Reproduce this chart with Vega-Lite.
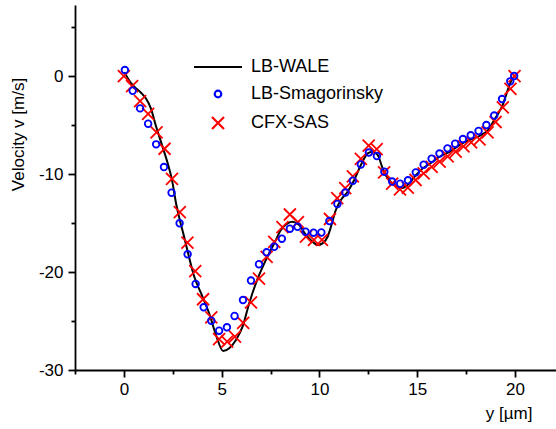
{
  "$schema": "https://vega.github.io/schema/vega-lite/v6.json",
  "width": 481,
  "height": 365,
  "autosize": {"type": "none"},
  "padding": {"left": 75, "top": 5, "right": 0, "bottom": 59},
  "background": "white",
  "config": {
    "view": {"stroke": null},
    "font": "Liberation Sans",
    "axis": {
      "grid": false,
      "domainColor": "black",
      "domainWidth": 1.8,
      "tickColor": "black",
      "tickWidth": 1.8,
      "labelColor": "black",
      "labelFontSize": 17,
      "labelFont": "Liberation Sans",
      "titleFont": "Liberation Sans",
      "titleFontSize": 17,
      "titleFontWeight": "normal",
      "titleColor": "black"
    },
    "legend": {
      "orient": "none",
      "legendX": 134,
      "legendY": 53,
      "padding": 0,
      "labelFont": "Liberation Sans",
      "labelFontSize": 18,
      "labelColor": "black",
      "labelOffset": 24,
      "symbolStrokeWidth": 2.2,
      "symbolSize": 144,
      "rowPadding": 9
    }
  },
  "data": {
    "values": [
      {"series": "LB-WALE", "x": 0.02, "v": 0.4},
      {"series": "LB-WALE", "x": 0.4, "v": -0.8},
      {"series": "LB-WALE", "x": 0.65, "v": -1.3},
      {"series": "LB-WALE", "x": 0.9, "v": -1.75},
      {"series": "LB-WALE", "x": 1.13, "v": -2.3},
      {"series": "LB-WALE", "x": 1.38, "v": -3.3},
      {"series": "LB-WALE", "x": 1.64, "v": -5.1},
      {"series": "LB-WALE", "x": 1.96, "v": -7.1},
      {"series": "LB-WALE", "x": 2.24, "v": -8.9},
      {"series": "LB-WALE", "x": 2.46, "v": -10.6},
      {"series": "LB-WALE", "x": 2.66, "v": -12.9},
      {"series": "LB-WALE", "x": 2.86, "v": -14.69},
      {"series": "LB-WALE", "x": 3.08, "v": -16.4},
      {"series": "LB-WALE", "x": 3.32, "v": -18.37},
      {"series": "LB-WALE", "x": 3.6, "v": -20.48},
      {"series": "LB-WALE", "x": 3.94, "v": -22.14},
      {"series": "LB-WALE", "x": 4.36, "v": -24.21},
      {"series": "LB-WALE", "x": 4.71, "v": -26.43},
      {"series": "LB-WALE", "x": 5.08, "v": -28.06},
      {"series": "LB-WALE", "x": 5.39, "v": -27.79},
      {"series": "LB-WALE", "x": 5.73, "v": -26.94},
      {"series": "LB-WALE", "x": 6.07, "v": -25.58},
      {"series": "LB-WALE", "x": 6.41, "v": -23.19},
      {"series": "LB-WALE", "x": 6.75, "v": -21.15},
      {"series": "LB-WALE", "x": 7.26, "v": -18.78},
      {"series": "LB-WALE", "x": 7.69, "v": -17.07},
      {"series": "LB-WALE", "x": 8.03, "v": -15.71},
      {"series": "LB-WALE", "x": 8.37, "v": -15.03},
      {"series": "LB-WALE", "x": 8.63, "v": -14.87},
      {"series": "LB-WALE", "x": 8.97, "v": -15.2},
      {"series": "LB-WALE", "x": 9.31, "v": -16.22},
      {"series": "LB-WALE", "x": 9.65, "v": -16.91},
      {"series": "LB-WALE", "x": 9.91, "v": -17.24},
      {"series": "LB-WALE", "x": 10.16, "v": -17.07},
      {"series": "LB-WALE", "x": 10.42, "v": -16.4},
      {"series": "LB-WALE", "x": 10.59, "v": -15.38},
      {"series": "LB-WALE", "x": 10.84, "v": -13.67},
      {"series": "LB-WALE", "x": 11.1, "v": -12.65},
      {"series": "LB-WALE", "x": 11.44, "v": -11.81},
      {"series": "LB-WALE", "x": 11.78, "v": -10.61},
      {"series": "LB-WALE", "x": 12.12, "v": -9.08},
      {"series": "LB-WALE", "x": 12.47, "v": -7.89},
      {"series": "LB-WALE", "x": 12.72, "v": -7.72},
      {"series": "LB-WALE", "x": 12.98, "v": -8.06},
      {"series": "LB-WALE", "x": 13.23, "v": -9.39},
      {"series": "LB-WALE", "x": 13.49, "v": -10.44},
      {"series": "LB-WALE", "x": 13.83, "v": -11.12},
      {"series": "LB-WALE", "x": 14.17, "v": -11.46},
      {"series": "LB-WALE", "x": 14.51, "v": -11.12},
      {"series": "LB-WALE", "x": 14.85, "v": -10.31},
      {"series": "LB-WALE", "x": 15.19, "v": -9.59},
      {"series": "LB-WALE", "x": 15.7, "v": -8.88},
      {"series": "LB-WALE", "x": 16.21, "v": -8.16},
      {"series": "LB-WALE", "x": 16.73, "v": -7.65},
      {"series": "LB-WALE", "x": 17.24, "v": -6.94},
      {"series": "LB-WALE", "x": 17.75, "v": -6.48},
      {"series": "LB-WALE", "x": 18.26, "v": -6.02},
      {"series": "LB-WALE", "x": 18.62, "v": -5.51},
      {"series": "LB-WALE", "x": 18.94, "v": -4.49},
      {"series": "LB-WALE", "x": 19.16, "v": -3.78},
      {"series": "LB-WALE", "x": 19.37, "v": -2.96},
      {"series": "LB-WALE", "x": 19.63, "v": -1.43},
      {"series": "LB-WALE", "x": 19.88, "v": -0.23},
      {"series": "LB-WALE", "x": 20.05, "v": 0.1},

      {"series": "CFX-SAS", "x": 0.0, "v": 0.0},
      {"series": "CFX-SAS", "x": 0.42, "v": -1.02},
      {"series": "CFX-SAS", "x": 0.83, "v": -2.55},
      {"series": "CFX-SAS", "x": 1.24, "v": -3.86},
      {"series": "CFX-SAS", "x": 1.67, "v": -5.74},
      {"series": "CFX-SAS", "x": 2.08, "v": -7.42},
      {"series": "CFX-SAS", "x": 2.46, "v": -10.49},
      {"series": "CFX-SAS", "x": 2.86, "v": -13.88},
      {"series": "CFX-SAS", "x": 3.25, "v": -16.99},
      {"series": "CFX-SAS", "x": 3.65, "v": -19.9},
      {"series": "CFX-SAS", "x": 4.05, "v": -22.78},
      {"series": "CFX-SAS", "x": 4.47, "v": -24.64},
      {"series": "CFX-SAS", "x": 4.87, "v": -26.86},
      {"series": "CFX-SAS", "x": 5.28, "v": -27.11},
      {"series": "CFX-SAS", "x": 5.68, "v": -26.6},
      {"series": "CFX-SAS", "x": 6.1, "v": -25.18},
      {"series": "CFX-SAS", "x": 6.5, "v": -23.11},
      {"series": "CFX-SAS", "x": 6.91, "v": -20.68},
      {"series": "CFX-SAS", "x": 7.3, "v": -18.45},
      {"series": "CFX-SAS", "x": 7.69, "v": -16.92},
      {"series": "CFX-SAS", "x": 8.11, "v": -15.41},
      {"series": "CFX-SAS", "x": 8.49, "v": -14.13},
      {"series": "CFX-SAS", "x": 8.9, "v": -14.9},
      {"series": "CFX-SAS", "x": 9.31, "v": -16.4},
      {"series": "CFX-SAS", "x": 9.72, "v": -16.73},
      {"series": "CFX-SAS", "x": 10.13, "v": -16.73},
      {"series": "CFX-SAS", "x": 10.54, "v": -14.59},
      {"series": "CFX-SAS", "x": 10.91, "v": -12.45},
      {"series": "CFX-SAS", "x": 11.32, "v": -11.43},
      {"series": "CFX-SAS", "x": 11.71, "v": -10.23},
      {"series": "CFX-SAS", "x": 12.12, "v": -8.45},
      {"series": "CFX-SAS", "x": 12.52, "v": -7.11},
      {"series": "CFX-SAS", "x": 12.93, "v": -7.45},
      {"series": "CFX-SAS", "x": 13.31, "v": -9.82},
      {"series": "CFX-SAS", "x": 13.72, "v": -10.97},
      {"series": "CFX-SAS", "x": 14.12, "v": -11.56},
      {"series": "CFX-SAS", "x": 14.52, "v": -11.38},
      {"series": "CFX-SAS", "x": 14.92, "v": -10.61},
      {"series": "CFX-SAS", "x": 15.33, "v": -9.93},
      {"series": "CFX-SAS", "x": 15.74, "v": -9.26},
      {"series": "CFX-SAS", "x": 16.15, "v": -8.74},
      {"series": "CFX-SAS", "x": 16.56, "v": -8.21},
      {"series": "CFX-SAS", "x": 16.97, "v": -7.72},
      {"series": "CFX-SAS", "x": 17.37, "v": -7.17},
      {"series": "CFX-SAS", "x": 17.76, "v": -6.77},
      {"series": "CFX-SAS", "x": 18.19, "v": -6.46},
      {"series": "CFX-SAS", "x": 18.6, "v": -5.74},
      {"series": "CFX-SAS", "x": 19.01, "v": -4.69},
      {"series": "CFX-SAS", "x": 19.38, "v": -3.19},
      {"series": "CFX-SAS", "x": 19.77, "v": -1.3},
      {"series": "CFX-SAS", "x": 19.98, "v": -0.02},

      {"series": "LB-Smagorinsky", "x": 0.05, "v": 0.61},
      {"series": "LB-Smagorinsky", "x": 0.45, "v": -1.5},
      {"series": "LB-Smagorinsky", "x": 0.83, "v": -3.3},
      {"series": "LB-Smagorinsky", "x": 1.24, "v": -4.87},
      {"series": "LB-Smagorinsky", "x": 1.65, "v": -6.97},
      {"series": "LB-Smagorinsky", "x": 2.05, "v": -9.29},
      {"series": "LB-Smagorinsky", "x": 2.44, "v": -11.91},
      {"series": "LB-Smagorinsky", "x": 2.85, "v": -15.03},
      {"series": "LB-Smagorinsky", "x": 3.26, "v": -18.19},
      {"series": "LB-Smagorinsky", "x": 3.67, "v": -21.22},
      {"series": "LB-Smagorinsky", "x": 4.08, "v": -23.6},
      {"series": "LB-Smagorinsky", "x": 4.47, "v": -24.97},
      {"series": "LB-Smagorinsky", "x": 4.87, "v": -25.99},
      {"series": "LB-Smagorinsky", "x": 5.27, "v": -25.64},
      {"series": "LB-Smagorinsky", "x": 5.66, "v": -24.49},
      {"series": "LB-Smagorinsky", "x": 6.09, "v": -22.86},
      {"series": "LB-Smagorinsky", "x": 6.5, "v": -20.87},
      {"series": "LB-Smagorinsky", "x": 6.91, "v": -19.21},
      {"series": "LB-Smagorinsky", "x": 7.3, "v": -17.99},
      {"series": "LB-Smagorinsky", "x": 7.69, "v": -17.42},
      {"series": "LB-Smagorinsky", "x": 8.08, "v": -16.6},
      {"series": "LB-Smagorinsky", "x": 8.49, "v": -15.58},
      {"series": "LB-Smagorinsky", "x": 8.88, "v": -15.38},
      {"series": "LB-Smagorinsky", "x": 9.29, "v": -15.89},
      {"series": "LB-Smagorinsky", "x": 9.7, "v": -15.99},
      {"series": "LB-Smagorinsky", "x": 10.1, "v": -15.97},
      {"series": "LB-Smagorinsky", "x": 10.51, "v": -14.8},
      {"series": "LB-Smagorinsky", "x": 10.92, "v": -13.06},
      {"series": "LB-Smagorinsky", "x": 11.33, "v": -11.89},
      {"series": "LB-Smagorinsky", "x": 11.71, "v": -10.68},
      {"series": "LB-Smagorinsky", "x": 12.12, "v": -9.03},
      {"series": "LB-Smagorinsky", "x": 12.53, "v": -7.81},
      {"series": "LB-Smagorinsky", "x": 12.94, "v": -8.16},
      {"series": "LB-Smagorinsky", "x": 13.32, "v": -9.77},
      {"series": "LB-Smagorinsky", "x": 13.72, "v": -10.77},
      {"series": "LB-Smagorinsky", "x": 14.13, "v": -10.99},
      {"series": "LB-Smagorinsky", "x": 14.53, "v": -10.64},
      {"series": "LB-Smagorinsky", "x": 14.93, "v": -9.83},
      {"series": "LB-Smagorinsky", "x": 15.33, "v": -9.05},
      {"series": "LB-Smagorinsky", "x": 15.74, "v": -8.44},
      {"series": "LB-Smagorinsky", "x": 16.14, "v": -7.91},
      {"series": "LB-Smagorinsky", "x": 16.55, "v": -7.38},
      {"series": "LB-Smagorinsky", "x": 16.94, "v": -6.91},
      {"series": "LB-Smagorinsky", "x": 17.34, "v": -6.43},
      {"series": "LB-Smagorinsky", "x": 17.74, "v": -6.05},
      {"series": "LB-Smagorinsky", "x": 18.14, "v": -5.61},
      {"series": "LB-Smagorinsky", "x": 18.54, "v": -5.0},
      {"series": "LB-Smagorinsky", "x": 18.94, "v": -4.03},
      {"series": "LB-Smagorinsky", "x": 19.34, "v": -2.35},
      {"series": "LB-Smagorinsky", "x": 19.76, "v": -0.54},
      {"series": "LB-Smagorinsky", "x": 19.96, "v": 0.0}
    ]
  },
  "layer": [
    {
      "transform": [{"filter": "datum.series === 'LB-WALE'"}],
      "mark": {"type": "line", "color": "black", "strokeWidth": 2, "interpolate": "monotone"},
      "encoding": {
        "x": {
          "field": "x", "type": "quantitative",
          "scale": {"domain": [-2.5, 22.1], "nice": false, "zero": false},
          "axis": {
            "orient": "bottom",
            "values": [0, 5, 10, 15, 20],
            "tickSize": 7,
            "labelPadding": 4,
            "title": "y [µm]",
            "titleX": 457,
            "titleY": 48,
            "titleAlign": "right",
            "titleBaseline": "alphabetic"
          }
        },
        "y": {
          "field": "v", "type": "quantitative",
          "scale": {"domain": [-30, 7.25], "nice": false, "zero": false},
          "axis": {
            "orient": "left",
            "values": [-30, -20, -10, 0],
            "labelExpr": "'' + datum.value",
            "tickSize": 7,
            "labelPadding": 5,
            "title": "Velocity v [m/s]",
            "titleX": -57,
            "titleY": 129,
            "titleAngle": -90,
            "titleAlign": "center",
            "titleBaseline": "middle"
          }
        }
      }
    },
    {
      "transform": [{"filter": "datum.series !== 'LB-WALE'"}],
      "mark": {"type": "point", "filled": false, "size": 144, "strokeWidth": 1.8, "opacity": 1},
      "encoding": {
        "x": {
          "field": "x", "type": "quantitative",
          "axis": {"orient": "bottom", "values": [-2.5, 2.5, 7.5, 12.5, 17.5], "tickSize": 4, "labels": false, "domain": false, "title": null}
        },
        "y": {
          "field": "v", "type": "quantitative",
          "axis": {"orient": "left", "values": [-25, -15, -5, 5], "tickSize": 4, "labels": false, "domain": false, "title": null}
        },
        "color": {
          "field": "series", "type": "nominal",
          "scale": {"domain": ["LB-WALE", "LB-Smagorinsky", "CFX-SAS"], "range": ["#000000", "#0000ff", "#ff0000"]},
          "legend": {"title": null}
        },
        "shape": {
          "field": "series", "type": "nominal",
          "scale": {"domain": ["LB-WALE", "LB-Smagorinsky", "CFX-SAS"], "range": ["M-4,0H4", "M0.55,0A0.55,0.55,0,1,1,-0.55,0A0.55,0.55,0,1,1,0.55,0Z", "M-1,-1L1,1M-1,1L1,-1"]},
          "legend": {"title": null}
        }
      }
    }
  ],
  "resolve": {"axis": {"x": "independent", "y": "independent"}}
}
